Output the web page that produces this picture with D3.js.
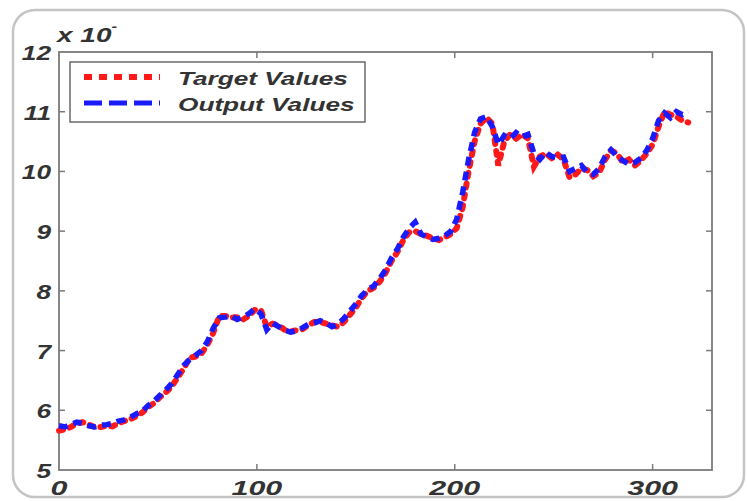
<!DOCTYPE html>
<html>
<head>
<meta charset="utf-8">
<script src="https://cdn.jsdelivr.net/npm/d3@7"></script>
<style>
  html, body { margin: 0; padding: 0; background: #fff; }
  svg { display: block; }
  text { font-family: "Liberation Sans", Arial, sans-serif; font-weight: bold; font-style: italic; fill: #333; }
</style>
</head>
<body>
<svg id="chart"></svg>
<script>
// sample positions (step 3) and values in units of 1e-3
const xs = d3.range(0, 319, 3)
const target = [5.66, 5.68, 5.72, 5.78, 5.80, 5.76, 5.72, 5.72, 5.74, 5.73, 5.78, 5.82, 5.85, 5.90, 5.96, 6.05,
  6.12, 6.22, 6.30, 6.40, 6.55, 6.70, 6.88, 6.90, 6.95, 7.10, 7.30, 7.58, 7.58, 7.55, 7.56, 7.52, 7.58, 7.68,
  7.68, 7.40, 7.45, 7.42, 7.35, 7.32, 7.34, 7.36, 7.42, 7.48, 7.48, 7.45, 7.42, 7.40, 7.48, 7.60, 7.72, 7.88,
  8.00, 8.05, 8.15, 8.30, 8.50, 8.65, 8.85, 8.98, 9.00, 8.95, 8.92, 8.88, 8.85, 8.90, 8.95, 9.05, 9.40, 10.00,
  10.50, 10.80, 10.90, 10.80, 10.10, 10.50, 10.62, 10.55, 10.62, 10.55, 10.08, 10.25, 10.30, 10.22, 10.28,
  10.20, 9.90, 9.95, 10.05, 10.02, 9.92, 9.98, 10.20, 10.35, 10.30, 10.15, 10.20, 10.10, 10.18, 10.30, 10.45,
  10.75, 11.00, 10.95, 10.92, 10.85, 10.82]
const output = [5.74, 5.72, 5.76, 5.80, 5.78, 5.74, 5.72, 5.75, 5.76, 5.78, 5.82, 5.84, 5.88, 5.94, 5.98, 6.08,
  6.15, 6.25, 6.34, 6.45, 6.60, 6.75, 6.85, 6.92, 7.00, 7.15, 7.38, 7.55, 7.56, 7.58, 7.52, 7.56, 7.62, 7.70,
  7.62, 7.35, 7.46, 7.40, 7.34, 7.31, 7.33, 7.38, 7.44, 7.46, 7.50, 7.46, 7.40, 7.44, 7.54, 7.66, 7.78, 7.92,
  8.02, 8.08, 8.20, 8.35, 8.55, 8.70, 8.90, 9.05, 9.15, 8.95, 8.90, 8.86, 8.88, 8.92, 9.00, 9.20, 9.65, 10.20,
  10.65, 10.88, 10.92, 10.75, 10.45, 10.60, 10.55, 10.65, 10.58, 10.62, 10.30, 10.20, 10.32, 10.25, 10.22,
  10.24, 10.00, 10.05, 10.10, 9.98, 9.95, 10.05, 10.25, 10.36, 10.25, 10.18, 10.12, 10.15, 10.22, 10.35, 10.55,
  10.85, 10.98, 10.90, 11.00, 10.95, 11.00]
const xTicks = [0, 100, 200, 300]
const yTicks = [5, 6, 7, 8, 9, 10, 11, 12]
const seriesNames = ['Target Values', 'Output Values']

const width = 747, height = 501
const plotLeft = 59, plotRight = 712, plotTop = 52, plotBottom = 470

const svg = d3.select('#chart').attr('width', width).attr('height', height)

// rounded figure frame
svg.append('rect')
   .attr('x', 13).attr('y', 10).attr('width', 731).attr('height', 487)
   .attr('rx', 22)
   .attr('fill', 'none').attr('stroke', '#c4c4c4').attr('stroke-width', 2.5)

const xScale = d3.scaleLinear([0, 330], [plotLeft, plotRight])
const yScale = d3.scaleLinear([5, 12], [plotBottom, plotTop])

// box + inward ticks, matlab style
const axisColor = '#7a7a7a'
svg.append('rect')
   .attr('x', plotLeft).attr('y', plotTop)
   .attr('width', plotRight - plotLeft).attr('height', plotBottom - plotTop)
   .attr('fill', 'none').attr('stroke', axisColor).attr('stroke-width', 1.8)

const ax = svg.append('g').attr('stroke', axisColor).attr('stroke-width', 1.5)
xTicks.filter(t => t > 0).forEach(t => {
    ax.append('line').attr('x1', xScale(t)).attr('x2', xScale(t)).attr('y1', plotBottom).attr('y2', plotBottom - 6)
    ax.append('line').attr('x1', xScale(t)).attr('x2', xScale(t)).attr('y1', plotTop).attr('y2', plotTop + 6)
})
yTicks.filter(t => t > 5 && t < 12).forEach(t => {
    ax.append('line').attr('x1', plotLeft).attr('x2', plotLeft + 6).attr('y1', yScale(t)).attr('y2', yScale(t))
    ax.append('line').attr('x1', plotRight).attr('x2', plotRight - 6).attr('y1', yScale(t)).attr('y2', yScale(t))
})

// the source picture is stretched sideways, so text gets a horizontal scale
svg.append('g').selectAll('text')
   .data(xTicks).join('text')
   .attr('transform', d => `translate(${xScale(d)},${plotBottom + 25}) scale(1.45,1)`)
   .attr('text-anchor', 'middle').attr('font-size', 21)
   .text(d => d)

svg.append('g').selectAll('text')
   .data(yTicks).join('text')
   .attr('transform', d => `translate(${plotLeft - 8},${yScale(d) + 8}) scale(1.25,1)`)
   .attr('text-anchor', 'end').attr('font-size', 21)
   .text(d => d)

const expo = svg.append('text')
   .attr('transform', 'translate(57,42) scale(1.4,1)').attr('font-size', 20)
expo.append('tspan').text('x 10')
expo.append('tspan').attr('dy', -11).attr('font-size', 12).text('-')

// series
const line = d3.line().x((d, i) => xScale(xs[i])).y(d => yScale(d))

svg.append('path')
   .attr('d', line(target))
   .attr('fill', 'none').attr('stroke', '#ff1a1a').attr('stroke-width', 6)
   .attr('stroke-dasharray', '4,7').attr('stroke-linecap', 'round')

svg.append('path')
   .attr('d', line(output))
   .attr('fill', 'none').attr('stroke', '#1a1aff').attr('stroke-width', 5.5)
   .attr('stroke-dasharray', '9,6').attr('stroke-linecap', 'butt')

// legend
const lg = svg.append('g')
lg.append('rect')
  .attr('x', 70).attr('y', 62).attr('width', 295).attr('height', 60)
  .attr('fill', '#fff').attr('stroke', '#6a6a6a').attr('stroke-width', 1.5)
lg.append('line')
  .attr('x1', 84).attr('x2', 160).attr('y1', 77).attr('y2', 77)
  .attr('stroke', '#ff1a1a').attr('stroke-width', 6).attr('stroke-dasharray', '8,7')
lg.append('line')
  .attr('x1', 84).attr('x2', 160).attr('y1', 103).attr('y2', 103)
  .attr('stroke', '#1a1aff').attr('stroke-width', 5).attr('stroke-dasharray', '18,7')
lg.selectAll('text.lab')
  .data(seriesNames).join('text')
  .attr('class', 'lab')
  .attr('transform', (d, i) => `translate(178,${85 + i * 26}) scale(1.38,1)`)
  .attr('font-size', 19)
  .text(d => d)
</script>
</body>
</html>
